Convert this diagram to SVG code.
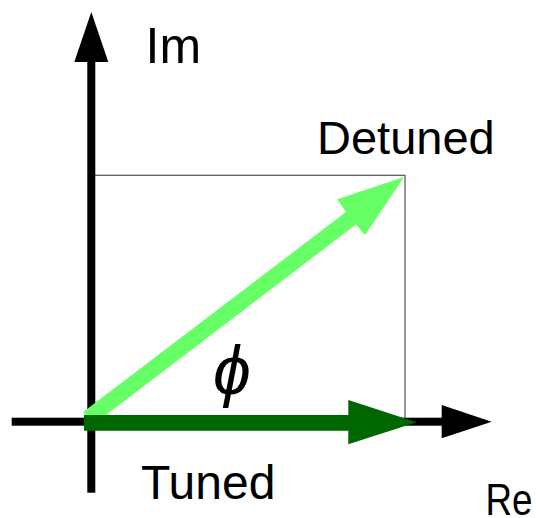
<svg xmlns="http://www.w3.org/2000/svg" width="536" height="518" viewBox="0 0 536 518">
<style>
.lbl{font-family:"Liberation Sans",Arial,sans-serif;fill:#000}
.axis{fill:#000}
</style>
<rect width="536" height="518" fill="#fff"/>
<g id="frame">
<rect x="91.3" y="175.3" width="313.7" height="246.4" fill="none" stroke="#555" stroke-width="1.2"/>
</g>
<g id="connectors">
<g id="im-axis">
<rect class="axis" x="87.3" y="60" width="8" height="432.7"/>
<polygon class="axis" points="91.3,12 108.3,62 74.3,62"/>
</g>
<g id="re-axis">
<rect class="axis" x="11.7" y="417.7" width="432" height="8"/>
<polygon class="axis" points="491.7,421.7 441.7,438.3 441.7,405"/>
</g>
<g id="detuned-vector">
<polygon fill="#66ff66" points="83.2,412.1 346,212 337.3,199.3 404,177 365,235 356,224.5 92.8,424.9"/>
</g>
<g id="tuned-vector">
<polygon fill="#006600" points="84,415 348.3,415 348.3,400 416.7,422.3 348.3,444.3 348.3,430.7 84,430.7"/>
</g>
</g>
<g id="label-im"><text class="lbl" x="145.5" y="62.7" font-size="50">Im</text></g>
<g id="label-detuned"><text class="lbl" x="317" y="154.3" font-size="47">Detuned</text></g>
<g id="label-tuned"><text class="lbl" x="141" y="499.3" font-size="48">Tuned</text></g>
<g id="label-re"><text class="lbl" x="485.5" y="515" font-size="45" textLength="47" lengthAdjust="spacingAndGlyphs">Re</text></g>
<g id="label-phi"><text class="lbl" x="232" y="394" font-size="68" font-style="italic" text-anchor="middle">ϕ</text></g>
</svg>
